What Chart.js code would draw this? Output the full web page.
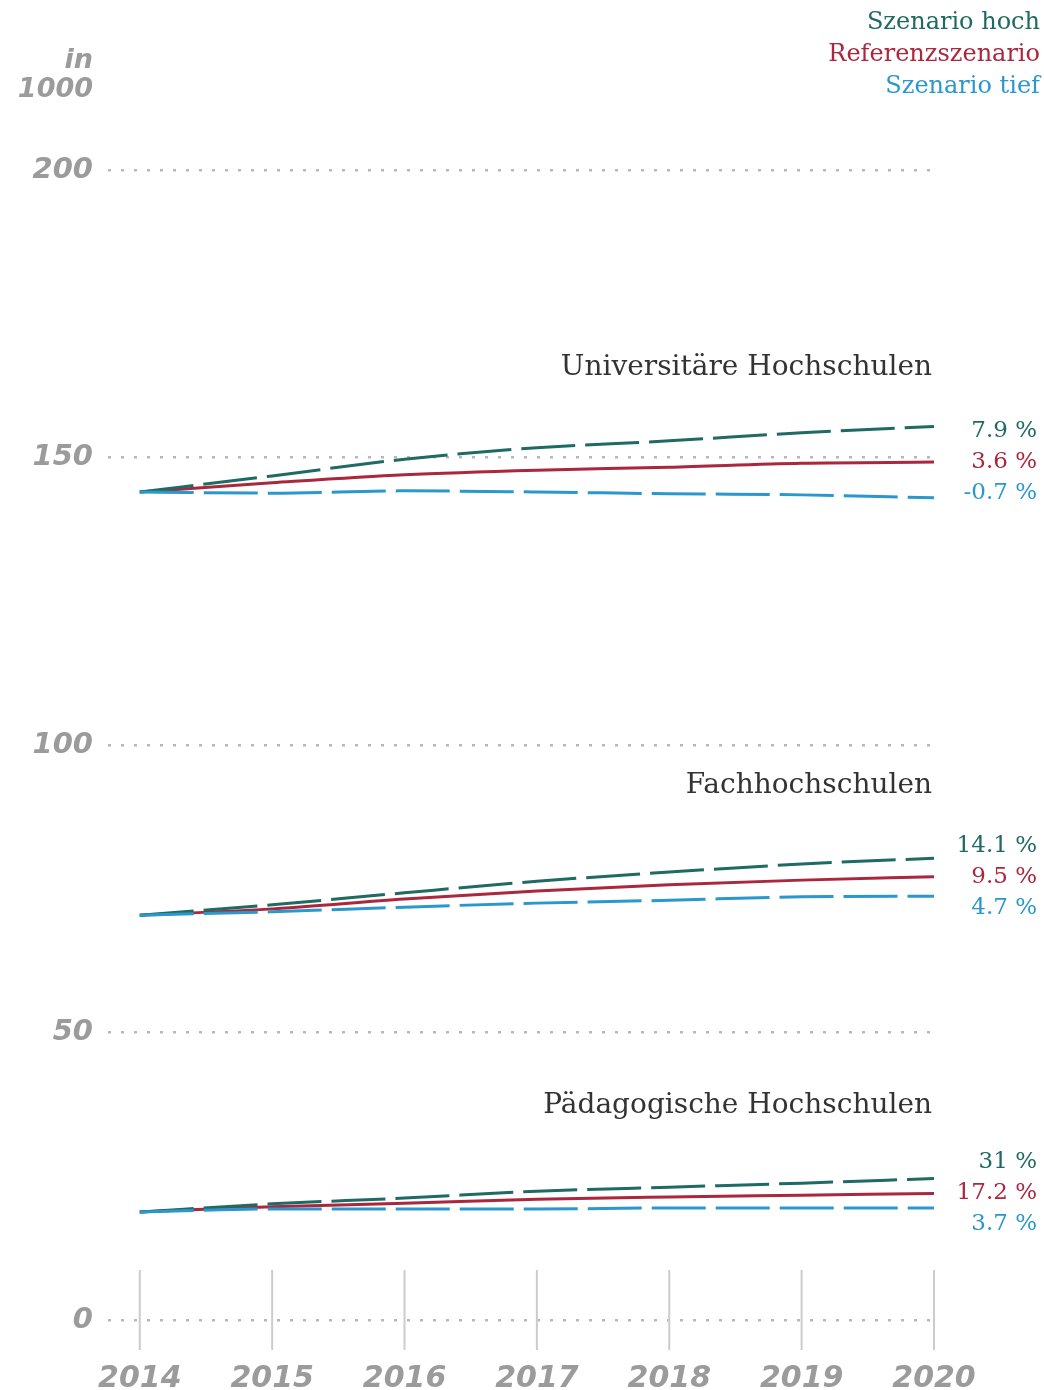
<!DOCTYPE html>
<html>
<head>
<meta charset="utf-8">
<script src="https://cdn.jsdelivr.net/npm/chart.js@4"></script>
<style>
  body { margin: 0; background: #fff; }
  #wrap { position: relative; width: 1044px; height: 1390px; }
  #legend {
    position: absolute; top: 5px; right: 4px; text-align: right;
    font: 24px "DejaVu Serif", serif; line-height: 32px;
  }
  #unit {
    position: absolute; top: 44px; left: 0; width: 93px; text-align: right;
    font: italic bold 27px "DejaVu Sans", sans-serif; line-height: 29px; color: #9b9b9b;
  }
</style>
</head>
<body>
<div id="wrap">
  <canvas id="chart"></canvas>
  <div id="unit">in<br>1000</div>
  <div id="legend">
    <div style="color:#1f6a63">Szenario hoch</div>
    <div style="color:#ab273d">Referenzszenario</div>
    <div style="color:#2a98cc">Szenario tief</div>
  </div>
</div>
<script>
// ---- data (in 1000 students) ----
const years = [2014, 2015, 2016, 2017, 2018, 2019, 2020];
const yTicks = [0, 50, 100, 150, 200];

const groupNames = ['Universitäre Hochschulen', 'Fachhochschulen', 'Pädagogische Hochschulen'];

const uniHoch = [144.0, 146.8, 149.7, 151.7, 152.9, 154.3, 155.4];
const uniRef  = [144.0, 145.6, 147.0, 147.8, 148.3, 149.0, 149.2];
const uniTief = [144.0, 143.8, 144.2, 144.0, 143.7, 143.5, 143.0];

const fhHoch = [70.4, 72.2, 74.3, 76.3, 77.9, 79.3, 80.3];
const fhRef  = [70.4, 71.5, 73.2, 74.6, 75.7, 76.5, 77.1];
const fhTief = [70.4, 71.0, 71.8, 72.5, 73.0, 73.6, 73.7];

const phHoch = [18.8, 20.2, 21.2, 22.4, 23.1, 23.8, 24.6];
const phRef  = [18.8, 19.7, 20.3, 21.0, 21.4, 21.7, 22.0];
const phTief = [18.8, 19.3, 19.3, 19.3, 19.5, 19.5, 19.5];

const changeHoch = ['7.9 %', '14.1 %', '31 %'];
const changeRef  = ['3.6 %', '9.5 %', '17.2 %'];
const changeTief = ['-0.7 %', '4.7 %', '3.7 %'];

// ---- styles ----
const colHoch = '#1f6a63';
const colRef = '#ab273d';
const colTief = '#2a98cc';
const tickGray = '#9b9b9b';

const groups = [
    { hoch: uniHoch, ref: uniRef, tief: uniTief },
    { hoch: fhHoch, ref: fhRef, tief: fhTief },
    { hoch: phHoch, ref: phRef, tief: phTief }
];

function toPoints(values) {
    return values.map((v, i) => ({ x: years[i], y: v }));
}

function line(values, color, dashed) {
    return {
        data: toPoints(values),
        borderColor: color,
        borderWidth: 3,
        borderDash: dashed ? [54, 10] : [],
        pointRadius: 0,
        fill: false,
        cubicInterpolationMode: 'monotone'
    };
}

const datasets = [];
groups.forEach(g => {
    datasets.push(line(g.tief, colTief, true));
    datasets.push(line(g.hoch, colHoch, true));
    datasets.push(line(g.ref, colRef, false));
});

// year marks, titles and change labels
const annotate = {
    id: 'annotate',
    afterDatasetsDraw(chart) {
        const { ctx, scales: { x, y } } = chart;
        ctx.save();

        ctx.strokeStyle = '#cccccc';
        ctx.lineWidth = 2;
        const base = y.getPixelForValue(0);
        years.forEach(yr => {
            const px = x.getPixelForValue(yr);
            ctx.beginPath();
            ctx.moveTo(px, base - 50);
            ctx.lineTo(px, base + 30);
            ctx.stroke();
        });

        const right = x.getPixelForValue(years[years.length - 1]);
        ctx.textBaseline = 'middle';
        ctx.textAlign = 'right';

        groups.forEach((g, gi) => {
            const refY = y.getPixelForValue(g.ref[g.ref.length - 1]);

            ctx.font = '28px "DejaVu Serif"';
            ctx.fillStyle = '#333333';
            ctx.fillText(groupNames[gi], right - 2, refY - 94 + gi * 3);

            ctx.font = '23px "DejaVu Serif"';
            ctx.fillStyle = colHoch;
            ctx.fillText(changeHoch[gi], right + 103, refY - 31);
            ctx.fillStyle = colRef;
            ctx.fillText(changeRef[gi], right + 103, refY);
            ctx.fillStyle = colTief;
            ctx.fillText(changeTief[gi], right + 103, refY + 31);
        });

        ctx.restore();
    }
};

new Chart(document.getElementById('chart'), {
    type: 'line',
    data: { datasets: datasets },
    plugins: [annotate],
    options: {
        responsive: true,
        maintainAspectRatio: false,
        animation: false,
        layout: { padding: { top: 170, right: 110, left: 0, bottom: 0 } },
        plugins: {
            legend: { display: false },
            tooltip: { enabled: false }
        },
        scales: {
            x: {
                type: 'linear',
                min: 2013.76,
                max: 2020,
                afterBuildTicks: s => { s.ticks = years.map(v => ({ value: v })); },
                afterFit: s => { s.height = 70; },
                grid: { display: false },
                border: { display: false },
                ticks: {
                    padding: 33,
                    color: tickGray,
                    font: { family: 'DejaVu Sans', size: 30, weight: 'bold', style: 'italic' },
                    callback: v => String(v)
                }
            },
            y: {
                min: 0,
                max: 200,
                afterBuildTicks: s => { s.ticks = yTicks.map(v => ({ value: v })); },
                afterFit: s => { s.width = 108; },
                grid: {
                    color: '#b8b8b8',
                    lineWidth: 2.5,
                    drawTicks: false
                },
                border: { display: false, dash: [3, 10] },
                ticks: {
                    padding: 15,
                    color: tickGray,
                    font: { family: 'DejaVu Sans', size: 29, weight: 'bold', style: 'italic' }
                }
            }
        }
    }
});
</script>
</body>
</html>
